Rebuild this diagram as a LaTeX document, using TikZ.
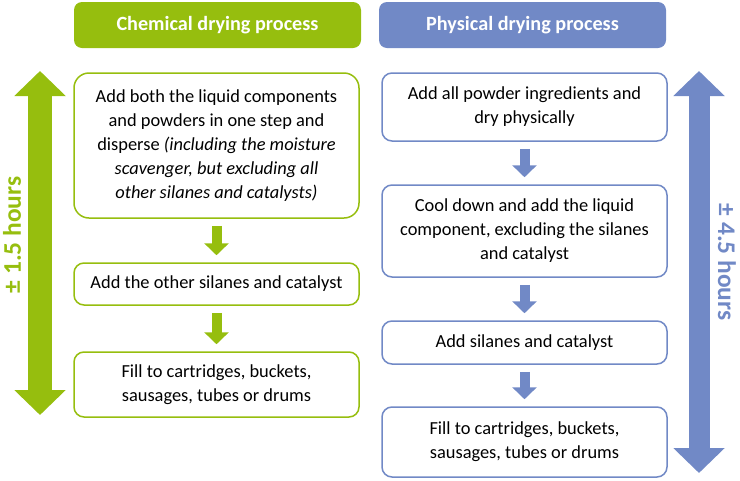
\documentclass[tikz,border=0pt]{standalone}
\usepackage{fontspec}
\setmainfont{Carlito}
\usetikzlibrary{arrows.meta,positioning}
\definecolor{ChemGreen}{HTML}{96BE0E}
\definecolor{PhysBlue}{HTML}{7189C6}

\tikzset{
  head/.style={rounded corners=8pt,minimum width=287pt,minimum height=46pt,text=white,font=\fontsize{20.2}{24}\selectfont\bfseries},
  stepbox/.style={draw,line width=1.5pt,fill=white,rounded corners=10pt,minimum width=285pt,align=center,font=\fontsize{18.4}{24}\selectfont},
  flow/.style={line width=10pt,-{Triangle[length=12pt,width=24pt]},shorten <=7pt,shorten >=7pt},
  span/.style={line width=24pt,{Triangle[length=25pt,width=50pt]}-{Triangle[length=25pt,width=50pt]}},
  hours/.style={font=\fontsize{25.4}{28}\selectfont\bfseries}
}

\begin{document}
\begin{tikzpicture}[x=1pt,y=-1pt]
  \useasboundingbox (0,0) rectangle (740,480);
  % headers
  \node[head,fill=ChemGreen] (chemhead) at (217.5,25) {Chemical drying process};
  \node[head,fill=PhysBlue] (physhead) at (522.5,25) {Physical drying process};
  % chemical column
  \node[stepbox,draw=ChemGreen,rounded corners=15pt,minimum height=145pt] (chemA) at (216.5,145.5)
    {Add both the liquid components\\and powders in one step and\\disperse \textit{(including the moisture}\\\textit{scavenger, but excluding all}\\\textit{other silanes and catalysts)}};
  \node[stepbox,draw=ChemGreen,minimum height=42pt] (chemB) at (216.5,284) {Add the other silanes and catalyst};
  \node[stepbox,draw=ChemGreen,minimum height=65pt] (chemC) at (216.5,384.5) {Fill to cartridges, buckets,\\sausages, tubes or drums};
  % physical column
  \node[stepbox,draw=PhysBlue,minimum height=68pt] (physA) at (524.5,107) {Add all powder ingredients and\\dry physically};
  \node[stepbox,draw=PhysBlue,minimum height=92pt] (physB) at (524.5,231) {Cool down and add the liquid\\component, excluding the silanes\\and catalyst};
  \node[stepbox,draw=PhysBlue,minimum height=43pt] (physC) at (524.5,342.5) {Add silanes and catalyst};
  \node[stepbox,draw=PhysBlue,minimum height=70pt] (physD) at (524.5,442) {Fill to cartridges, buckets,\\sausages, tubes or drums};
  % flow arrows
  \foreach \a/\b in {chemA/chemB,chemB/chemC}{\draw[flow,ChemGreen] (\a) -- (\b);}
  \foreach \a/\b in {physA/physB,physB/physC,physC/physD}{\draw[flow,PhysBlue] (\a) -- (\b);}
  % duration arrows
  \coordinate (chemtop) at (40,71);
  \coordinate (chembot) at (40,415);
  \coordinate (phystop) at (699,71);
  \coordinate (physbot) at (699,473);
  \draw[span,ChemGreen] (chemtop) -- (chembot);
  \draw[span,PhysBlue,line width=21pt] (phystop) -- (physbot);
  \node[hours,text=ChemGreen,rotate=90] (chemtime) at (12,235) {± 1.5 hours};
  \node[hours,text=PhysBlue,rotate=-90] (phystime) at (727,262) {± 4.5 hours};
\end{tikzpicture}
\end{document}
